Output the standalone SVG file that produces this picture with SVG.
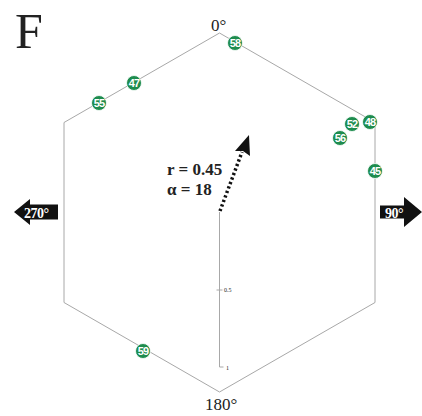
<svg xmlns="http://www.w3.org/2000/svg" width="422" height="416" viewBox="0 0 422 416">
<defs>
<style>
.frame{fill:none;stroke:#a8a8a8;stroke-width:1}
.lbl{font-family:"Liberation Serif","Times New Roman",serif;fill:#222}
.pt circle{fill:#1e8c4e;stroke:#fff;stroke-width:0.8}
.pt text{font-family:"Liberation Sans",Arial,sans-serif;font-weight:bold;font-size:11px;fill:#fff;text-anchor:middle;letter-spacing:-0.8px}
.dir path{fill:#111}
.dir text{font-family:"Liberation Serif","Times New Roman",serif;font-weight:bold;font-size:14px;fill:#fff;letter-spacing:-0.5px}
</style>
</defs>
<rect width="422" height="416" fill="#fff"/>
<text class="lbl" x="15" y="48" font-size="50">F</text>
<g id="hexagon">
<polygon class="frame" points="219.5,33 375,122.5 375,302.5 219.5,392 64,302.5 64,122.5"/>
</g>
<g id="axis">
<line class="frame" x1="219.5" y1="212" x2="219.5" y2="367"/>
<line class="frame" x1="216.5" y1="290" x2="222.5" y2="290"/>
<line class="frame" x1="219.5" y1="367" x2="223.5" y2="367"/>
<text class="lbl" x="224" y="292" font-size="6">0.5</text>
<text class="lbl" x="226" y="369.5" font-size="6">1</text>
</g>
<text class="lbl" x="211" y="31" font-size="17">0°</text>
<text class="lbl" x="205" y="410" font-size="17">180°</text>
<g id="dir-270" class="dir">
<path d="M14,212 L30,199 L30,204.5 L58,204.5 L58,219.5 L30,219.5 L30,225 Z"/>
<text x="24" y="217.5">270°</text>
</g>
<g id="dir-90" class="dir">
<path d="M380,205.5 L404,205.5 L404,197 L422,212 L404,227 L404,218.5 L380,218.5 Z"/>
<text x="385" y="217.5">90°</text>
</g>
<g id="connectors">
<line x1="220" y1="211" x2="242" y2="152" stroke="#111" stroke-width="3.5" stroke-dasharray="2.2,2.6"/>
<polygon points="249,135 250,156 243,151 235,151" fill="#111"/>
</g>
<g id="stats">
<text class="lbl" x="167" y="175" font-size="17" font-weight="bold">r = 0.45</text>
<text class="lbl" x="167" y="194.5" font-size="17" font-weight="bold">α = 18</text>
</g>
<g id="p58" class="pt"><circle cx="235" cy="43" r="7.5"/><text x="235" y="47">58</text></g>
<g id="p47" class="pt"><circle cx="134" cy="83" r="7.5"/><text x="134" y="87">47</text></g>
<g id="p55" class="pt"><circle cx="99" cy="103" r="7.5"/><text x="99" y="107">55</text></g>
<g id="p48" class="pt"><circle cx="370" cy="122" r="7.5"/><text x="370" y="126">48</text></g>
<g id="p52" class="pt"><circle cx="352" cy="124" r="7.5"/><text x="352" y="128">52</text></g>
<g id="p56" class="pt"><circle cx="340" cy="138" r="7.5"/><text x="340" y="142">56</text></g>
<g id="p45" class="pt"><circle cx="375" cy="171" r="7.5"/><text x="375" y="175">45</text></g>
<g id="p59" class="pt"><circle cx="143" cy="351" r="7.5"/><text x="143" y="355">59</text></g>
</svg>
